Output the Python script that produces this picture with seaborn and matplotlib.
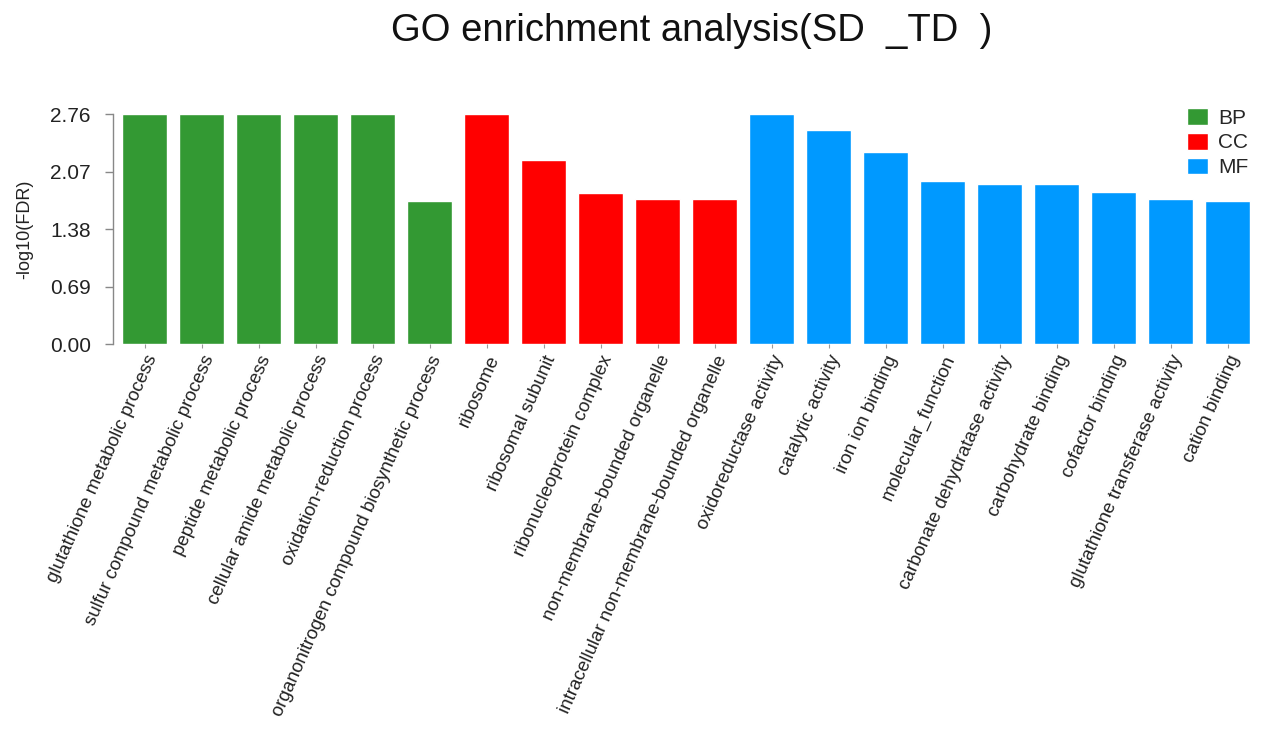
import matplotlib
matplotlib.use("Agg")
from matplotlib import pyplot as plt
import seaborn as sns
import pandas as pd

terms = [
    "glutathione metabolic process",
    "sulfur compound metabolic process",
    "peptide metabolic process",
    "cellular amide metabolic process",
    "oxidation-reduction process",
    "organonitrogen compound biosynthetic process",
    "ribosome",
    "ribosomal subunit",
    "ribonucleoprotein complex",
    "non-membrane-bounded organelle",
    "intracellular non-membrane-bounded organelle",
    "oxidoreductase activity",
    "catalytic activity",
    "iron ion binding",
    "molecular_function",
    "carbonate dehydratase activity",
    "carbohydrate binding",
    "cofactor binding",
    "glutathione transferase activity",
    "cation binding",
]
categories = ["BP"] * 6 + ["CC"] * 5 + ["MF"] * 9
log_fdr = [2.76, 2.76, 2.76, 2.76, 2.76, 1.72,
           2.76, 2.21, 1.81, 1.74, 1.74,
           2.76, 2.57, 2.31, 1.96, 1.92, 1.92, 1.82, 1.74, 1.72]
y_ticks = [0.00, 0.69, 1.38, 2.07, 2.76]
palette = {"BP": "#339933", "CC": "#ff0000", "MF": "#0099ff"}

df = pd.DataFrame({"term": terms, "category": categories, "value": log_fdr})

sns.set_style("white")
plt.rcParams["font.family"] = ["Liberation Sans", "DejaVu Sans"]

fig = plt.figure(figsize=(12.64, 7.31), dpi=100)
ax = fig.add_axes([0.0894, 0.529, 0.9012, 0.315])
sns.barplot(data=df, x="term", y="value", hue="category", palette=palette,
            dodge=False, width=0.79, saturation=1, ax=ax)

ax.set_ylim(0, 2.76)
ax.set_xlim(-0.555, 19.43)
ax.set_yticks(y_ticks)
ax.set_yticklabels([f"{t:.2f}" for t in y_ticks], fontsize=15, color="#222222")
ax.set_xticks(range(len(terms)))
ax.set_xticklabels(terms, rotation=66, ha="right", rotation_mode="anchor",
                   fontsize=13.5, color="#222222")
ax.tick_params(axis="y", direction="out", length=6, width=1, color="#888888", pad=10, left=True)
ax.tick_params(axis="x", direction="out", length=3, width=0.8, color="#999999", pad=3, bottom=True)
ax.set_xlabel("")
ax.set_ylabel("-log10(FDR)", fontsize=13, labelpad=12, color="#222222")

for s in ["top", "right", "bottom"]:
    ax.spines[s].set_visible(False)
ax.spines["left"].set_color("#888888")
ax.spines["left"].set_linewidth(1)

leg = ax.legend(loc="upper left", bbox_to_anchor=(0.939, 0.852),
                bbox_transform=fig.transFigure, frameon=False,
                fontsize=15, handlelength=1.0, handleheight=0.85,
                handletextpad=0.5, labelspacing=0.25, borderpad=0, borderaxespad=0)

fig.text(0.547, 0.958, "GO enrichment analysis(SD  _TD  )", ha="center", va="center",
         fontsize=27.5, color="#111111")

fig.savefig("out.png", dpi=100)
